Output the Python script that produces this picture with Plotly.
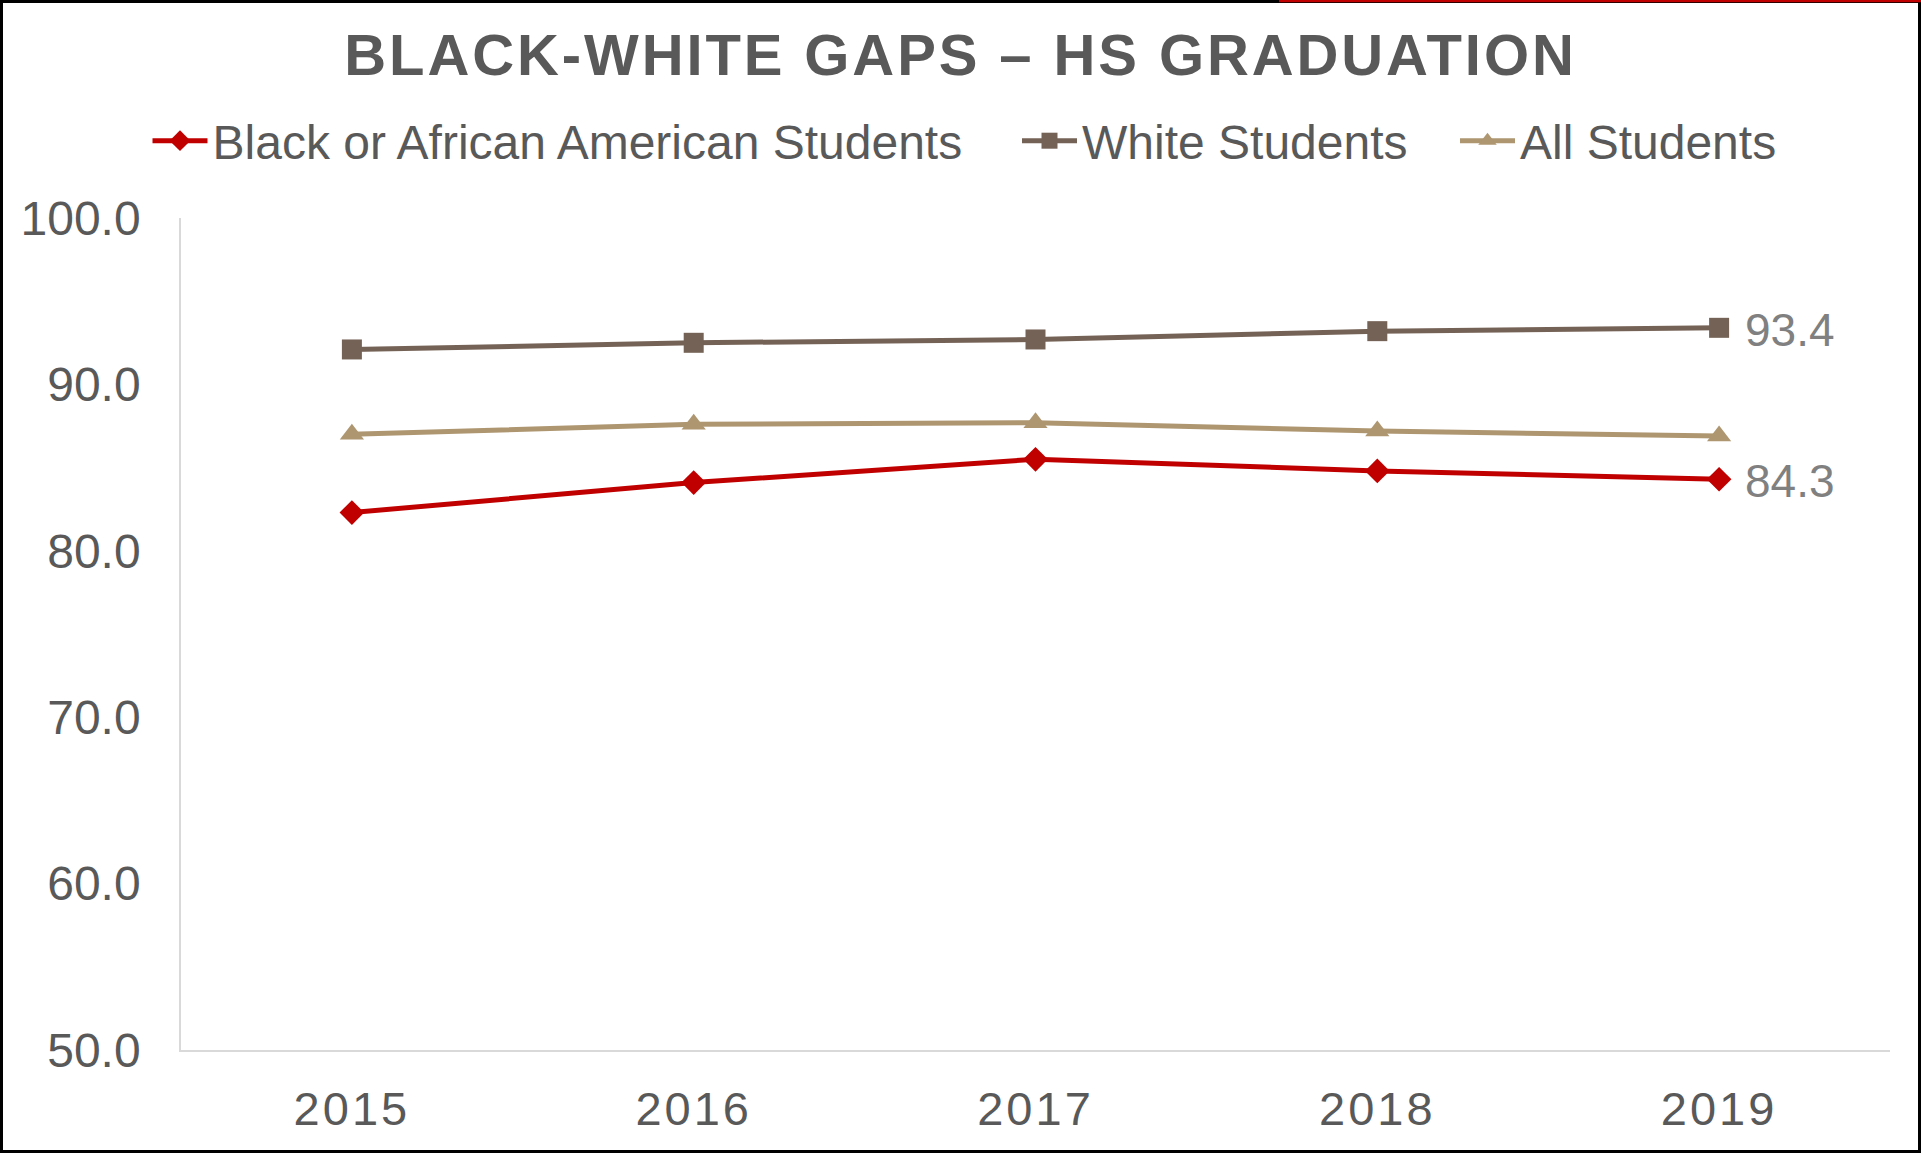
import plotly.graph_objects as go

# Graduation rates by year
years = ["2015", "2016", "2017", "2018", "2019"]
black_students = [82.3, 84.1, 85.5, 84.8, 84.3]
white_students = [92.1, 92.5, 92.7, 93.2, 93.4]
all_students = [87.0, 87.6, 87.7, 87.2, 86.9]
y_ticks = [50, 60, 70, 80, 90, 100]

W, H = 1921, 1153
ML, MR, MT, MB = 181, 31, 218, 103
PW, PH = W - ML - MR, H - MT - MB

FONT = "Liberation Sans, Arial, sans-serif"
GREY = "#595959"


def px_x(px):
    return (px - ML) / PW


def px_y(py):
    return (H - MB - py) / PH


fig = go.Figure()

fig.add_trace(go.Scatter(
    x=years, y=black_students, name="Black or African American Students",
    mode="lines+markers",
    line=dict(color="#C00000", width=5),
    marker=dict(symbol="diamond", size=19, color="#C00000"),
    legend="legend", cliponaxis=False,
))
fig.add_trace(go.Scatter(
    x=years, y=white_students, name="White Students",
    mode="lines+markers",
    line=dict(color="#756256", width=5),
    marker=dict(symbol="square", size=20, color="#756256"),
    legend="legend2", cliponaxis=False,
))
fig.add_trace(go.Scatter(
    x=years, y=all_students, name="All Students",
    mode="lines+markers",
    line=dict(color="#AE9670", width=5),
    marker=dict(symbol="triangle-up", size=21, color="#AE9670"),
    legend="legend3", cliponaxis=False,
))

# value labels at the final year (category index of the last year)
last_idx = len(years) - 1
value_labels = [
    dict(x=last_idx, y=series[-1], text=f"{series[-1]:.1f}",
         xref="x", yref="y", xanchor="left", yanchor="middle",
         xshift=24, yshift=-2, showarrow=False,
         font=dict(size=46, color="#808080", family=FONT))
    for series in (white_students, black_students)
]

legend_common = dict(
    orientation="h", xanchor="left", yanchor="middle",
    font=dict(size=48, color=GREY, family=FONT),
    bgcolor="rgba(0,0,0,0)", borderwidth=0, itemwidth=55,
)

fig.update_layout(
    width=W, height=H,
    margin=dict(l=ML, r=MR, t=MT, b=MB, autoexpand=False),
    paper_bgcolor="white", plot_bgcolor="white",
    font=dict(family=FONT, color=GREY),
    showlegend=True,
    title=dict(
        text='<span style="letter-spacing:2.9px">BLACK-WHITE GAPS \u2013 HS GRADUATION</span>',
        font=dict(size=58, color=GREY, family=FONT, weight="bold"),
        x=0.5, xref="container", xanchor="center",
        y=1 - 55 / H, yref="container", yanchor="middle",
    ),
    legend=dict(legend_common, x=px_x(147.5), y=px_y(141)),
    legend2=dict(legend_common, x=px_x(1017), y=px_y(141)),
    legend3=dict(legend_common, x=px_x(1455), y=px_y(141)),
    xaxis=dict(
        type="category", range=[-0.5, 4.5], automargin=False,
        tickvals=years,
        ticktext=[f'<span style="letter-spacing:3px">{y}</span>' for y in years],
        showline=True, linecolor="#D9D9D9", linewidth=2,
        showgrid=False, zeroline=False, ticks="",
        tickfont=dict(size=47, color=GREY, family=FONT),
        ticklabelstandoff=17,
    ),
    yaxis=dict(
        range=[50, 100], tickvals=y_ticks, tickformat=".1f", automargin=False,
        showline=True, linecolor="#D9D9D9", linewidth=1.5,
        showgrid=False, zeroline=False, ticks="",
        tickfont=dict(size=48, color=GREY, family=FONT),
        ticklabelstandoff=29,
    ),
    annotations=value_labels,
    shapes=[
        # outer frame
        dict(type="rect", xref="paper", yref="paper",
             x0=px_x(1.5), x1=px_x(W - 1.5), y0=px_y(H - 1.5), y1=px_y(1.5),
             line=dict(color="black", width=3), fillcolor="rgba(0,0,0,0)", layer="above"),
        # red accent along the top edge
        dict(type="line", xref="paper", yref="paper",
             x0=px_x(1279), x1=px_x(W), y0=px_y(1), y1=px_y(1),
             line=dict(color="#C00000", width=2.5), layer="above"),
    ],
)

fig.write_html("out.html")
